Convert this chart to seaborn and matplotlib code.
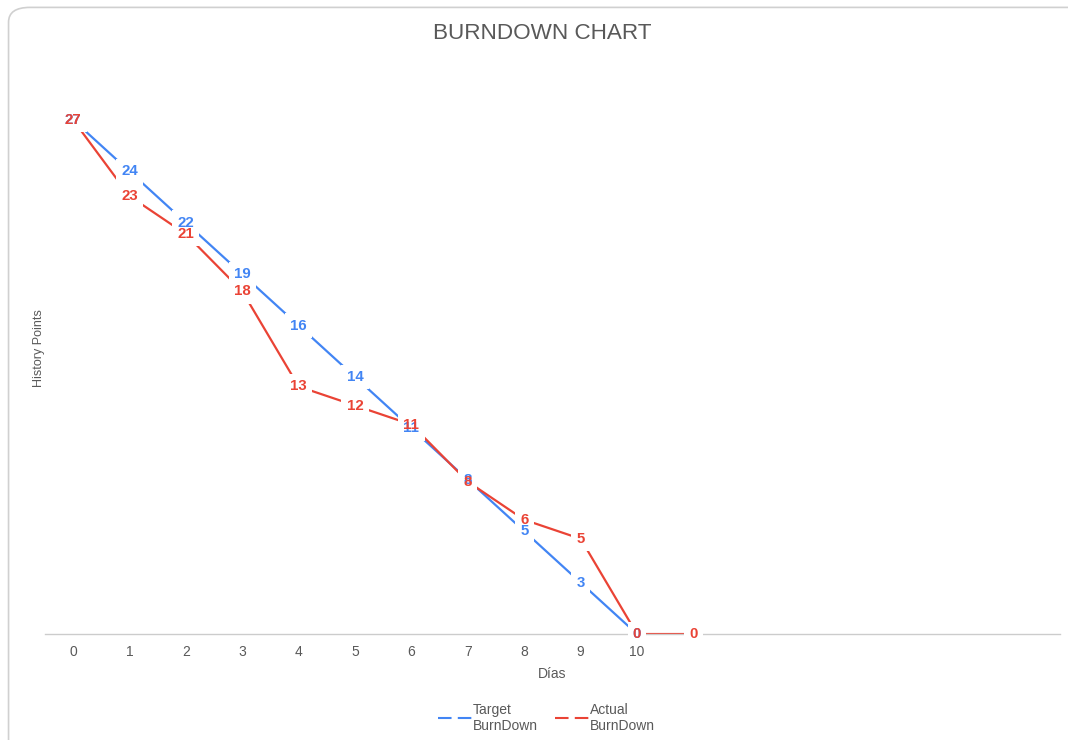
import matplotlib
matplotlib.use("Agg")
import matplotlib.pyplot as plt
from matplotlib.patches import FancyBboxPatch
from matplotlib.lines import Line2D
import seaborn as sns
import pandas as pd

sns.set_theme(style="white")
plt.rcParams['font.family'] = ['Liberation Sans', 'DejaVu Sans']

days_target = [0, 1, 2, 3, 4, 5, 6, 7, 8, 9, 10]
target = [27, 24.3, 21.6, 18.9, 16.2, 13.5, 10.8, 8.1, 5.4, 2.7, 0]
days_actual = [0, 1, 2, 3, 4, 5, 6, 7, 8, 9, 10, 11]
actual = [27, 23, 21, 18, 13, 12, 11, 8, 6, 5, 0, 0]
tick_labels = ["0", "1", "2", "3", "4", "5", "6", "7", "8", "9", "10"]
series_names = ["Target\nBurnDown", "Actual\nBurnDown"]

BLUE = "#4285F4"
RED = "#EA4335"
GRAY = "#595959"

df = pd.concat([
    pd.DataFrame({"day": days_target, "value": target, "series": series_names[0]}),
    pd.DataFrame({"day": days_actual, "value": actual, "series": series_names[1]}),
])

fig = plt.figure(figsize=(10.68, 7.4), dpi=100)
ax = fig.add_axes([0.042, 0.1432, 0.9505, 0.772])

sns.lineplot(data=df, x="day", y="value", hue="series",
             palette={series_names[0]: BLUE, series_names[1]: RED},
             linewidth=1.6, ax=ax, legend=False, zorder=2)

for xs, ys in [(days_target, target), (days_actual, actual)]:
    for x, y in zip(xs, ys):
        ax.text(x, y, f"{round(y):d}", color="white", fontsize=10.8, fontweight="bold",
                ha="center", va="center", zorder=3,
                bbox=dict(boxstyle="square,pad=0.35", fc="white", ec="none"))
for xs, ys, col in [(days_target, target, BLUE), (days_actual, actual, RED)]:
    for x, y in zip(xs, ys):
        ax.text(x, y, f"{round(y):d}", color=col, fontsize=10.8, fontweight="bold",
                ha="center", va="center", zorder=4)

ax.set_xlim(-0.5, 17.5)
ax.set_ylim(0, 30)
ax.set_xticks(days_target)
ax.set_xticklabels(tick_labels, color=GRAY, fontsize=10)
ax.set_yticks([])
ax.tick_params(axis="x", length=0, pad=8)
for s in ["top", "right", "left"]:
    ax.spines[s].set_visible(False)
ax.spines["bottom"].set_color("#cccccc")
ax.spines["bottom"].set_linewidth(1)
ax.set_xlabel("Días", color=GRAY, fontsize=10, labelpad=6)
ax.set_ylabel("History Points", color=GRAY, fontsize=9, labelpad=0)

fig.text(0.508, 0.955, "BURNDOWN CHART", ha="center", va="center",
         fontsize=16.2, color=GRAY)

handles = [Line2D([], [], color=BLUE, lw=1.5, ls=(0, (6.5, 3))),
           Line2D([], [], color=RED, lw=1.5, ls=(0, (6.5, 3)))]
fig.legend(handles, series_names, loc="upper center", ncol=2,
           bbox_to_anchor=(0.512, 0.058), frameon=False, fontsize=10,
           labelcolor=GRAY, handlelength=2.4, handletextpad=0.1,
           columnspacing=1.25, borderaxespad=0)

border = FancyBboxPatch((0.008, -0.05), 1.05, 1.04, transform=fig.transFigure,
                        boxstyle="round,pad=0,rounding_size=0.02",
                        fc="none", ec="#d0d0d0", lw=1.2, clip_on=False)
fig.patches.append(border)

fig.savefig("out.png", dpi=100)
